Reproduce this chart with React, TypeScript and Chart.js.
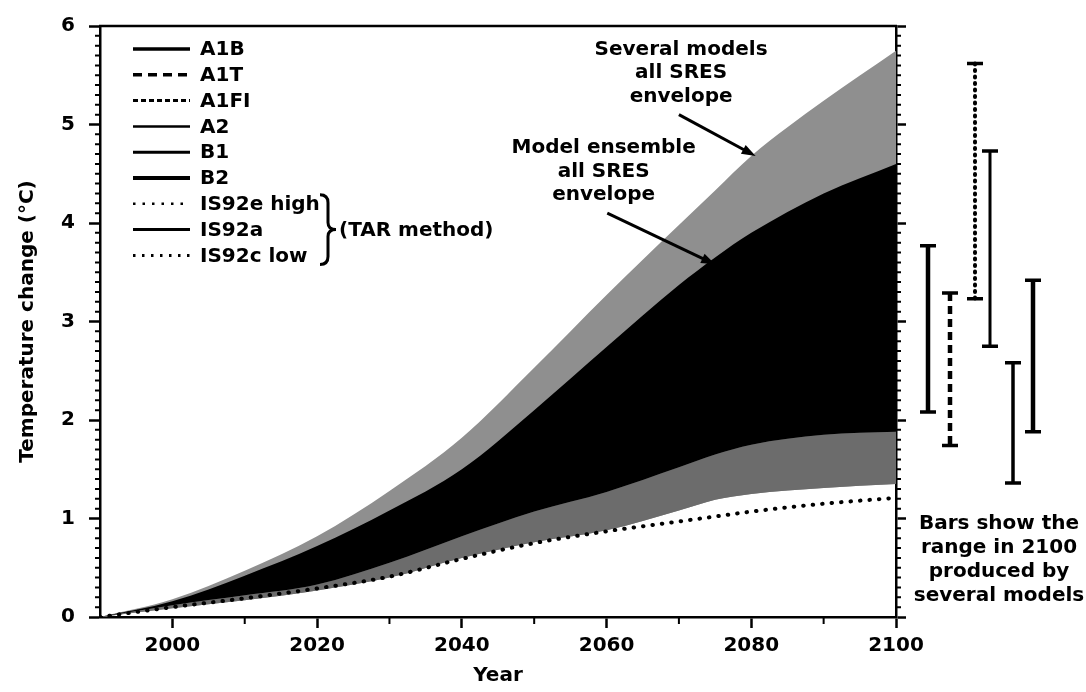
import React, { useEffect, useRef } from 'react';
import { Chart, registerables } from 'chart.js';

Chart.register(...registerables);

// ---------- data ----------
const years = [1990, 2000, 2010, 2020, 2030, 2040, 2050, 2060, 2070, 2075, 2080, 2090, 2100];
const severalModelsUpper = [0, 0.18, 0.47, 0.82, 1.28, 1.82, 2.53, 3.27, 3.98, 4.33, 4.68, 5.24, 5.75];
const ensembleUpper = [0, 0.16, 0.42, 0.72, 1.08, 1.5, 2.1, 2.74, 3.37, 3.65, 3.9, 4.3, 4.6];
const ensembleLower = [0, 0.12, 0.22, 0.33, 0.55, 0.82, 1.07, 1.27, 1.52, 1.65, 1.75, 1.85, 1.88];
const severalModelsLower = [0, 0.09, 0.17, 0.27, 0.4, 0.6, 0.76, 0.88, 1.08, 1.19, 1.25, 1.31, 1.35];
const is92cLow = [0, 0.1, 0.19, 0.29, 0.41, 0.59, 0.75, 0.87, 0.97, 1.02, 1.07, 1.15, 1.21];

const scenarioNames = ['A1B', 'A1T', 'A1FI', 'A2', 'B1', 'B2'];
const range2100Low = [2.08, 1.74, 3.23, 2.75, 1.36, 1.88];
const range2100High = [3.77, 3.29, 5.62, 4.73, 2.58, 3.42];

const legendLabels = ['A1B', 'A1T', 'A1FI', 'A2', 'B1', 'B2', 'IS92e high', 'IS92a', 'IS92c low'];
const tarLabel = '(TAR method)';
const xTickYears = [2000, 2020, 2040, 2060, 2080, 2100];
const yTickValues = [0, 1, 2, 3, 4, 5, 6];
const noteSeveral = ['Several models', 'all SRES', 'envelope'];
const noteEnsemble = ['Model ensemble', 'all SRES', 'envelope'];
const barNote = ['Bars show the', 'range in 2100', 'produced by', 'several models'];

// ---------- styles / layout ----------
const FONT_FAMILY = '"DejaVu Sans", "Liberation Sans", sans-serif';
const FONT = `bold 20px ${FONT_FAMILY}`;
const legendStyles = [
  { w: 3.5, dash: [] },
  { w: 3.5, dash: [9, 6] },
  { w: 3, dash: [5, 3] },
  { w: 2.5, dash: [] },
  { w: 3, dash: [] },
  { w: 4, dash: [] },
  { w: 2.5, dash: [2.5, 7] },
  { w: 3, dash: [] },
  { w: 3, dash: [2.5, 6.5] },
];
const barStyles = [
  { dx: 32, w: 4.5, dash: [], cap: 'butt' },
  { dx: 54, w: 4.5, dash: [8, 5], cap: 'butt' },
  { dx: 79, w: 4, dash: [1, 5.5], cap: 'round' },
  { dx: 94, w: 3, dash: [], cap: 'butt' },
  { dx: 117, w: 3.5, dash: [], cap: 'butt' },
  { dx: 137, w: 4.5, dash: [], cap: 'butt' },
];
const noteLayout = {
  several: { x: 2070.3, y: 5.53, arrowFrom: [2070, 5.1], arrowTo: [2080.6, 4.68], head: true },
  ensemble: { x: 2059.6, y: 4.53, arrowFrom: [2060.1, 4.1], arrowTo: [2075, 3.58], head: true },
};

const pts = (vals: number[]) => years.map((x, i) => ({ x, y: vals[i] }));

const decorPlugin = {
  id: 'decor',
  afterDraw(chart: any) {
    const { ctx, chartArea: a, scales } = chart;
    const xs = scales.x;
    const ys = scales.y;
    ctx.save();
    ctx.strokeStyle = '#000';
    ctx.fillStyle = '#000';
    ctx.lineCap = 'butt';

    // top frame
    ctx.lineWidth = 2.5;
    ctx.beginPath();
    ctx.moveTo(a.left - 1, a.top);
    ctx.lineTo(a.right + 1, a.top);
    ctx.stroke();

    // minor ticks
    ctx.lineWidth = 2;
    ctx.beginPath();
    for (let i = 1; i < 60; i++) {
      if (i % 10 === 0) continue;
      const y = ys.getPixelForValue(i / 10);
      ctx.moveTo(a.left - 5, y);
      ctx.lineTo(a.left, y);
      ctx.moveTo(a.right, y);
      ctx.lineTo(a.right + 5, y);
    }
    for (let yr = 2010; yr < 2100; yr += 20) {
      const x = xs.getPixelForValue(yr);
      ctx.moveTo(x, a.bottom);
      ctx.lineTo(x, a.bottom + 7);
    }
    ctx.stroke();

    // legend
    ctx.font = FONT;
    ctx.textBaseline = 'middle';
    ctx.textAlign = 'left';
    const rowY = (i: number) => a.top + 23 + i * 25.8;
    legendLabels.forEach((lab, i) => {
      const st = legendStyles[i];
      const y = rowY(i);
      ctx.lineWidth = st.w;
      ctx.setLineDash(st.dash);
      ctx.beginPath();
      ctx.moveTo(a.left + 33, y);
      ctx.lineTo(a.left + 90, y);
      ctx.stroke();
      ctx.setLineDash([]);
      ctx.fillText(lab, a.left + 100, y + 1);
    });
    // brace
    const bTop = rowY(6) - 9;
    const bBot = rowY(8) + 9;
    const bMid = rowY(7);
    const bx0 = a.left + 220;
    const bx1 = a.left + 228;
    const bx2 = a.left + 236;
    ctx.lineWidth = 3;
    ctx.beginPath();
    ctx.moveTo(bx0, bTop);
    ctx.quadraticCurveTo(bx1, bTop, bx1, bTop + 8);
    ctx.lineTo(bx1, bMid - 7);
    ctx.quadraticCurveTo(bx1, bMid, bx2, bMid);
    ctx.quadraticCurveTo(bx1, bMid, bx1, bMid + 7);
    ctx.lineTo(bx1, bBot - 8);
    ctx.quadraticCurveTo(bx1, bBot, bx0, bBot);
    ctx.stroke();
    ctx.fillText(tarLabel, a.left + 239, bMid + 1);

    // envelope notes and arrows
    ctx.textAlign = 'center';
    const drawNote = (lines: string[], L: any) => {
      const cx = xs.getPixelForValue(L.x);
      const cy = ys.getPixelForValue(L.y);
      lines.forEach((t, i) => ctx.fillText(t, cx, cy + (i - 1) * 23.5 + 1));
      const x1 = xs.getPixelForValue(L.arrowFrom[0]);
      const y1 = ys.getPixelForValue(L.arrowFrom[1]);
      const x2 = xs.getPixelForValue(L.arrowTo[0]);
      const y2 = ys.getPixelForValue(L.arrowTo[1]);
      const ang = Math.atan2(y2 - y1, x2 - x1);
      const hl = 14;
      ctx.lineWidth = 3;
      ctx.beginPath();
      ctx.moveTo(x1, y1);
      ctx.lineTo(x2 - Math.cos(ang) * hl * 0.8, y2 - Math.sin(ang) * hl * 0.8);
      ctx.stroke();
      if (L.head) {
        ctx.beginPath();
        ctx.moveTo(x2, y2);
        ctx.lineTo(x2 - hl * Math.cos(ang) + 5 * Math.sin(ang), y2 - hl * Math.sin(ang) - 5 * Math.cos(ang));
        ctx.lineTo(x2 - hl * Math.cos(ang) - 5 * Math.sin(ang), y2 - hl * Math.sin(ang) + 5 * Math.cos(ang));
        ctx.closePath();
        ctx.fill();
      }
    };
    drawNote(noteSeveral, noteLayout.several);
    drawNote(noteEnsemble, noteLayout.ensemble);

    // 2100 range bars
    scenarioNames.forEach((_, i) => {
      const st = barStyles[i];
      const x = a.right + st.dx;
      const yTop = ys.getPixelForValue(range2100High[i]);
      const yBot = ys.getPixelForValue(range2100Low[i]);
      ctx.lineWidth = st.w;
      ctx.lineCap = st.cap;
      ctx.setLineDash(st.dash);
      ctx.beginPath();
      ctx.moveTo(x, yTop);
      ctx.lineTo(x, yBot);
      ctx.stroke();
      ctx.setLineDash([]);
      ctx.lineCap = 'butt';
      ctx.lineWidth = 3.5;
      ctx.beginPath();
      ctx.moveTo(x - 8, yTop);
      ctx.lineTo(x + 8, yTop);
      ctx.moveTo(x - 8, yBot);
      ctx.lineTo(x + 8, yBot);
      ctx.stroke();
    });

    // bar note
    const nx = a.right + 103;
    barNote.forEach((t, i) => ctx.fillText(t, nx, a.bottom - 93 + i * 24));

    ctx.restore();
  },
};

export default function App() {
  const ref = useRef<HTMLCanvasElement | null>(null);

  useEffect(() => {
    document.body.style.margin = '0';
    const canvas = ref.current;
    if (!canvas) return;
    const tickFont = { family: FONT_FAMILY, size: 20, weight: 'bold' as const };
    const common = { pointRadius: 0, borderWidth: 0, cubicInterpolationMode: 'monotone' as const };
    const chart = new Chart(canvas, {
      type: 'line',
      data: {
        datasets: [
          { ...common, label: 'Model ensemble upper', data: pts(ensembleUpper), fill: { target: 1 }, backgroundColor: '#000', borderColor: '#000', order: 1 },
          { ...common, label: 'Model ensemble lower', data: pts(ensembleLower), fill: { target: 3 }, backgroundColor: '#6c6c6c', borderColor: '#6c6c6c', order: 2 },
          { ...common, label: 'Several models upper', data: pts(severalModelsUpper), fill: { target: 3 }, backgroundColor: '#8f8f8f', borderColor: '#8f8f8f', order: 3 },
          { ...common, label: 'Several models lower', data: pts(severalModelsLower), fill: false, backgroundColor: '#8f8f8f', borderColor: '#8f8f8f', order: 4 },
          {
            ...common,
            label: 'IS92c low',
            data: pts(is92cLow),
            fill: false,
            borderColor: '#000',
            borderWidth: 4,
            borderDash: [0.5, 9],
            borderCapStyle: 'round',
            order: 0,
          },
        ],
      },
      options: {
        responsive: false,
        animation: false,
        devicePixelRatio: 1,
        layout: { padding: { top: 21, right: 190, left: 0, bottom: 0 } },
        plugins: { legend: { display: false }, tooltip: { enabled: false } },
        events: [],
        scales: {
          x: {
            type: 'linear',
            min: 1990,
            max: 2100,
            afterBuildTicks: (s: any) => {
              s.ticks = xTickYears.map((v) => ({ value: v }));
            },
            afterFit: (s: any) => {
              s.height = 75;
            },
            ticks: { font: tickFont, color: '#000', padding: 6, maxRotation: 0, autoSkip: false, callback: (v: any) => String(v) },
            grid: { drawOnChartArea: false, tickLength: 11, tickWidth: 2.5, tickColor: '#000' },
            border: { width: 2.5, color: '#000' },
            title: { display: true, text: 'Year', font: tickFont, color: '#000', padding: { top: 0, bottom: 4 } },
          },
          y: {
            type: 'linear',
            min: 0,
            max: 6,
            afterBuildTicks: (s: any) => {
              s.ticks = yTickValues.map((v) => ({ value: v }));
            },
            afterFit: (s: any) => {
              s.width = 100;
            },
            ticks: { font: tickFont, color: '#000', padding: 14 },
            grid: { drawOnChartArea: false, tickLength: 11, tickWidth: 2.5, tickColor: '#000' },
            border: { width: 2.5, color: '#000' },
            title: { display: true, text: 'Temperature change (°C)', font: tickFont, color: '#000', padding: { top: 16, bottom: 0 } },
          },
          y2: {
            type: 'linear',
            position: 'right',
            min: 0,
            max: 6,
            afterBuildTicks: (s: any) => {
              s.ticks = yTickValues.map((v) => ({ value: v }));
            },
            afterFit: (s: any) => {
              s.width = 0;
            },
            ticks: { display: false },
            grid: { drawOnChartArea: false, tickLength: 10, tickWidth: 2.5, tickColor: '#000' },
            border: { width: 2.5, color: '#000' },
          },
        },
      },
      plugins: [decorPlugin],
    } as any);
    return () => chart.destroy();
  }, []);

  return (
    <div style={{ position: 'absolute', left: 0, top: 0, width: 1086, height: 692, background: '#fff' }}>
      <canvas ref={ref} width={1086} height={692} style={{ display: 'block', width: 1086, height: 692 }} />
    </div>
  );
}
